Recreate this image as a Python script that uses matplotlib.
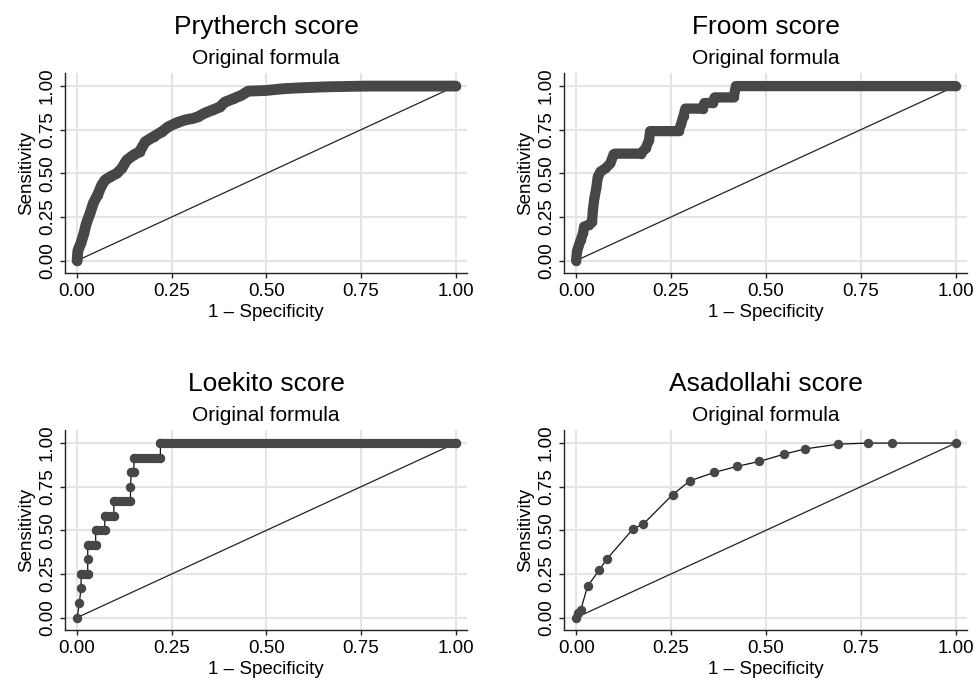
import matplotlib
matplotlib.use('Agg')
import matplotlib.pyplot as plt

plt.rcParams['font.family'] = ['Liberation Sans', 'DejaVu Sans']

# ---------------- data ----------------
titles = ['Prytherch score', 'Froom score', 'Loekito score', 'Asadollahi score']
subtitle = 'Original formula'
xlabel = '1 \u2013 Specificity'
ylabel = 'Sensitivity'
ticks = [0.0, 0.25, 0.5, 0.75, 1.0]
tick_labels = ['0.00', '0.25', '0.50', '0.75', '1.00']

prytherch_fpr = [0.0, 0.002, 0.010, 0.018, 0.024, 0.034, 0.043, 0.054, 0.065, 0.074,
                 0.087, 0.105, 0.118, 0.131, 0.149, 0.165, 0.180, 0.202, 0.224, 0.241,
                 0.263, 0.285, 0.307, 0.320, 0.337, 0.360, 0.377, 0.390, 0.412, 0.434,
                 0.452, 0.500, 0.545, 0.588, 0.660, 0.765, 1.0]
prytherch_sens = [0.0, 0.057, 0.100, 0.156, 0.210, 0.270, 0.330, 0.376, 0.433, 0.462,
                  0.480, 0.500, 0.529, 0.576, 0.605, 0.624, 0.681, 0.710, 0.739, 0.767,
                  0.790, 0.806, 0.815, 0.825, 0.845, 0.865, 0.880, 0.908, 0.927, 0.947,
                  0.971, 0.975, 0.985, 0.990, 0.996, 1.0, 1.0]

froom_fpr = [0.0, 0.002, 0.006, 0.012, 0.018, 0.021, 0.033, 0.042, 0.044, 0.048,
             0.053, 0.057, 0.064, 0.077, 0.090, 0.099, 0.102, 0.170, 0.183, 0.192,
             0.195, 0.270, 0.276, 0.283, 0.288, 0.333, 0.338, 0.360, 0.365, 0.415,
             0.421, 1.0]
froom_sens = [0.0, 0.052, 0.080, 0.118, 0.156, 0.195, 0.204, 0.223, 0.290, 0.357,
              0.414, 0.480, 0.510, 0.528, 0.557, 0.610, 0.613, 0.613, 0.643, 0.690,
              0.742, 0.742, 0.780, 0.830, 0.871, 0.871, 0.903, 0.903, 0.935, 0.935,
              1.0, 1.0]

loekito_fpr = [0.0, 0.006, 0.010, 0.011, 0.028, 0.028, 0.028, 0.049, 0.049, 0.073,
               0.073, 0.097, 0.097, 0.141, 0.141, 0.143, 0.150, 0.150, 0.220, 0.220, 1.0]
loekito_sens = [0.0, 0.083, 0.167, 0.250, 0.250, 0.333, 0.417, 0.417, 0.500, 0.500,
                0.583, 0.583, 0.667, 0.667, 0.750, 0.833, 0.833, 0.917, 0.917, 1.0, 1.0]

asadollahi_fpr = [0.0, 0.006, 0.012, 0.030, 0.060, 0.081, 0.150, 0.177, 0.254, 0.300,
                  0.364, 0.423, 0.483, 0.549, 0.602, 0.691, 0.770, 0.832, 1.0]
asadollahi_sens = [0.0, 0.027, 0.042, 0.180, 0.270, 0.336, 0.508, 0.536, 0.704, 0.784,
                   0.832, 0.866, 0.895, 0.937, 0.966, 0.994, 1.0, 1.0, 1.0]

series = [(prytherch_fpr, prytherch_sens), (froom_fpr, froom_sens),
          (loekito_fpr, loekito_sens), (asadollahi_fpr, asadollahi_sens)]
# band style: 'all' = dense points everywhere, 'flat' = dense only on ties, None = discrete
band_mode = ['all', 'all', 'flat', None]
band_width = [7.8, 7.4, 6.6, 0]

# ---------------- layout ----------------
W, H = 975, 680
fig = plt.figure(figsize=(W / 100, H / 100), dpi=100)
# pixel boxes (left, top, right, bottom)
boxes = [(65, 73, 467, 273), (564, 73, 967, 273),
         (65, 430, 467, 630), (564, 430, 967, 630)]

MK = '#474747'
GRID = '#e4e4e4'
marker_d = 6.8

for i, ((l, t, r, b), (xs, ys)) in enumerate(zip(boxes, series)):
    ax = fig.add_axes([l / W, 1 - b / H, (r - l) / W, (b - t) / H])
    ax.set_xlim(-0.032, 1.03)
    ax.set_ylim(-0.071, 1.075)
    ax.set_xticks(ticks)
    ax.set_xticklabels(tick_labels)
    ax.set_yticks(ticks)
    ax.set_yticklabels(tick_labels, rotation=90, va='center')
    ax.grid(True, color=GRID, lw=1.5, zorder=0)
    ax.set_axisbelow(True)
    for s in ['top', 'right']:
        ax.spines[s].set_visible(False)
    for s in ['left', 'bottom']:
        ax.spines[s].set_color('#222222')
        ax.spines[s].set_linewidth(1.0)
    ax.tick_params(axis='both', direction='out', length=3.5, width=1.0,
                   color='#222222', labelsize=13.5, pad=3)
    ax.tick_params(axis='x', pad=4)

    # reference diagonal
    ax.plot([0, 1], [0, 1], color='#222222', lw=0.9, zorder=2)

    # dense bands
    if band_mode[i] == 'all':
        ax.plot(xs, ys, color=MK, lw=band_width[i], solid_capstyle='round',
                solid_joinstyle='round', zorder=3)
    elif band_mode[i] == 'flat':
        for j in range(len(xs) - 1):
            if ys[j] == ys[j + 1]:
                ax.plot([xs[j], xs[j + 1]], [ys[j], ys[j + 1]], color=MK,
                        lw=band_width[i], solid_capstyle='round', zorder=3)
    # connecting line + markers
    ax.plot(xs, ys, color='#111111', lw=0.9, zorder=2.5)
    ax.plot(xs, ys, ls='none', marker='o', ms=marker_d, mfc=MK, mec=MK,
            mew=0, zorder=3)

    ax.set_xlabel(xlabel, fontsize=13.5, labelpad=2.5)
    ax.set_ylabel(ylabel, fontsize=13.5, labelpad=3)

    cx = (l + r) / 2 / W
    fig.text(cx, 1 - (t - 39) / H, titles[i], ha='center', va='baseline', fontsize=19)
    fig.text(cx, 1 - (t - 9) / H, subtitle, ha='center', va='baseline', fontsize=15)

fig.savefig('out.png', dpi=100, facecolor='white')
